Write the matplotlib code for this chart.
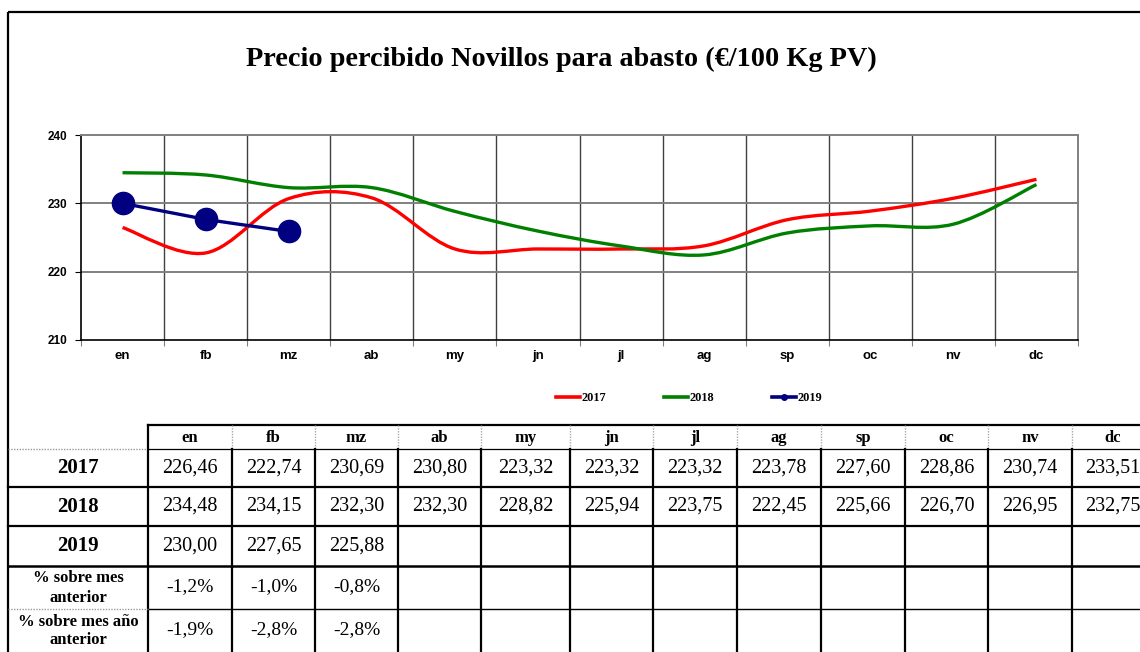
import numpy as np
import matplotlib
matplotlib.use("Agg")
import matplotlib.pyplot as plt
from matplotlib.path import Path
from matplotlib.patches import PathPatch
from matplotlib.lines import Line2D

months = ['en', 'fb', 'mz', 'ab', 'my', 'jn', 'jl', 'ag', 'sp', 'oc', 'nv', 'dc']
v2017 = [226.46, 222.74, 230.69, 230.80, 223.32, 223.32, 223.32, 223.78, 227.60, 228.86, 230.74, 233.51]
v2018 = [234.48, 234.15, 232.30, 232.30, 228.82, 225.94, 223.75, 222.45, 225.66, 226.70, 226.95, 232.75]
v2019 = [230.00, 227.65, 225.88]
pct_prev_month = [-1.2, -1.0, -0.8]
pct_prev_year = [-1.9, -2.8, -2.8]

W, H = 1140, 652
fig = plt.figure(figsize=(W / 100, H / 100), dpi=100)

# full-figure pixel canvas for frame, title and table
ov = fig.add_axes([0, 0, 1, 1])
ov.set_xlim(0, W)
ov.set_ylim(H, 0)
ov.axis('off')

SERIF = ['Liberation Serif', 'DejaVu Serif']
SANS = ['Liberation Sans', 'DejaVu Sans']

# outer frame
ov.plot([8, 8], [12, H], color='black', lw=1.6, solid_capstyle='butt')
ov.plot([8, W], [12, 12], color='black', lw=1.6, solid_capstyle='butt')

ov.text(561, 59, 'Precio percibido Novillos para abasto (€/100 Kg PV)',
        ha='center', va='center', fontsize=20.3, fontweight='bold', family=SERIF)

# chart area
px0, px1, py0, py1 = 81, 1078, 135, 340
ax = fig.add_axes([px0 / W, 1 - py1 / H, (px1 - px0) / W, (py1 - py0) / H])
ax.set_xlim(0, 12)
ax.set_ylim(210, 240)
ax.set_yticks([210, 220, 230, 240])
ax.set_xticks(range(13))
ax.set_xticklabels([])
ax.set_xticks(np.arange(12) + 0.5, minor=True)
ax.set_xticklabels(months, minor=True)
ax.tick_params(axis='x', which='minor', length=0, pad=7)
ax.tick_params(axis='x', which='major', length=4, color='#808080', direction='out')
ax.tick_params(axis='y', length=4, direction='out', pad=6)
for lab in ax.get_yticklabels():
    lab.set_fontsize(8.5)
    lab.set_fontweight('bold')
    lab.set_family(SANS)
for lab in ax.get_xticklabels(minor=True):
    lab.set_fontsize(9.5)
    lab.set_fontweight('bold')
    lab.set_family(SANS)
for x in range(1, 12):
    ax.axvline(x, color='#404040', lw=1.0, zorder=1)
for y in (220, 230):
    ax.axhline(y, color='#808080', lw=1.4, zorder=1)
for s in ('top', 'right'):
    ax.spines[s].set_color('#808080')
    ax.spines[s].set_linewidth(1.4)
ax.spines['left'].set_color('black')
ax.spines['bottom'].set_color('black')
ax.spines['left'].set_linewidth(1.2)
ax.spines['bottom'].set_linewidth(1.2)


def smooth_path(xs, ys):
    # Bezier segments with Catmull-Rom style control points
    pts = np.column_stack([xs, ys])
    n = len(pts)
    verts = [pts[0]]
    codes = [Path.MOVETO]
    for i in range(n - 1):
        p0 = pts[max(i - 1, 0)]
        p1 = pts[i]
        p2 = pts[i + 1]
        p3 = pts[min(i + 2, n - 1)]
        verts += [p1 + (p2 - p0) / 6, p2 - (p3 - p1) / 6, p2]
        codes += [Path.CURVE4] * 3
    return Path(verts, codes)


xc = np.arange(12) + 0.5
ax.add_patch(PathPatch(smooth_path(xc, v2017), fill=False, edgecolor='#ff0000', lw=2.4, zorder=3))
ax.add_patch(PathPatch(smooth_path(xc, v2018), fill=False, edgecolor='#008000', lw=2.4, zorder=3))
ax.plot(xc[:len(v2019)], v2019, color='#000080', lw=2.4, marker='o', markersize=16, zorder=4)

handles = [Line2D([], [], color='#ff0000', lw=2.6),
           Line2D([], [], color='#008000', lw=2.6),
           Line2D([], [], color='#000080', lw=2.6, marker='o', markersize=4)]
fig.legend(handles, ['2017', '2018', '2019'], loc='center', bbox_to_anchor=(689 / W, 1 - 398 / H),
           ncol=3, frameon=False, handlelength=2.0, handletextpad=0.08, columnspacing=4.75,
           prop={'family': SERIF, 'weight': 'bold', 'size': 8.8})

# data table
cols = [8, 148, 232, 315, 398, 481, 570, 653, 737, 821, 905, 988, 1072, 1154]
rows = [425, 449, 487, 526, 566, 609, 660]
right = W

# header row
ov.plot([148, right], [425, 425], color='black', lw=1.6)
ov.plot([148, right], [449, 449], color='black', lw=0.9)
ov.plot([8, 148], [449, 449], color='#999999', lw=1.0, ls=(0, (1, 1)))
for x in cols[2:-1]:
    ov.plot([x, x], [425, 449], color='#aaaaaa', lw=1.0, ls=(0, (1, 1)))
for x in cols[1:-1]:
    ov.plot([x, x], [449 if x != 148 else 425, H], color='black', lw=1.6)
for y, lw in ((487, 1.6), (526, 1.6), (566, 1.8)):
    ov.plot([8, right], [y, y], color='black', lw=lw)
ov.plot([148, right], [609, 609], color='black', lw=1.0)
ov.plot([8, 148], [609, 609], color='#999999', lw=1.0, ls=(0, (1, 1)))

centers_x = [(cols[i] + cols[i + 1]) / 2 for i in range(len(cols) - 1)]
centers_y = [(rows[i] + rows[i + 1]) / 2 for i in range(len(rows) - 1)]

for i, m in enumerate(months):
    ov.text(centers_x[i + 1], centers_y[0] + 1, m, ha='center', va='center',
            fontsize=12, fontweight='bold', family=SERIF)


def fmt(v, nd=2, pct=False):
    s = f'{v:.{nd}f}'.replace('.', ',')
    return s + '%' if pct else s


row_series = [v2017, v2018, v2019]
for r, (lab, vals) in enumerate(zip(['2017', '2018', '2019'], row_series)):
    y = centers_y[r + 1]
    ov.text(centers_x[0], y, lab, ha='center', va='center', fontsize=15,
            fontweight='bold', family=SERIF)
    for i, v in enumerate(vals):
        ov.text(centers_x[i + 1], y, fmt(v), ha='center', va='center',
                fontsize=14.5, family=SERIF)

pct_rows = [('% sobre mes\nanterior', pct_prev_month, 587),
            ('% sobre mes año\nanterior', pct_prev_year, 630)]
for lab, vals, y in pct_rows:
    ov.text(centers_x[0], y + 1, lab, ha='center', va='center', fontsize=12,
            fontweight='bold', family=SERIF, linespacing=1.25)
    for i, v in enumerate(vals):
        ov.text(centers_x[i + 1], y, fmt(v, 1, True), ha='center', va='center',
                fontsize=14, family=SERIF)

fig.savefig('out.png', dpi=100)
